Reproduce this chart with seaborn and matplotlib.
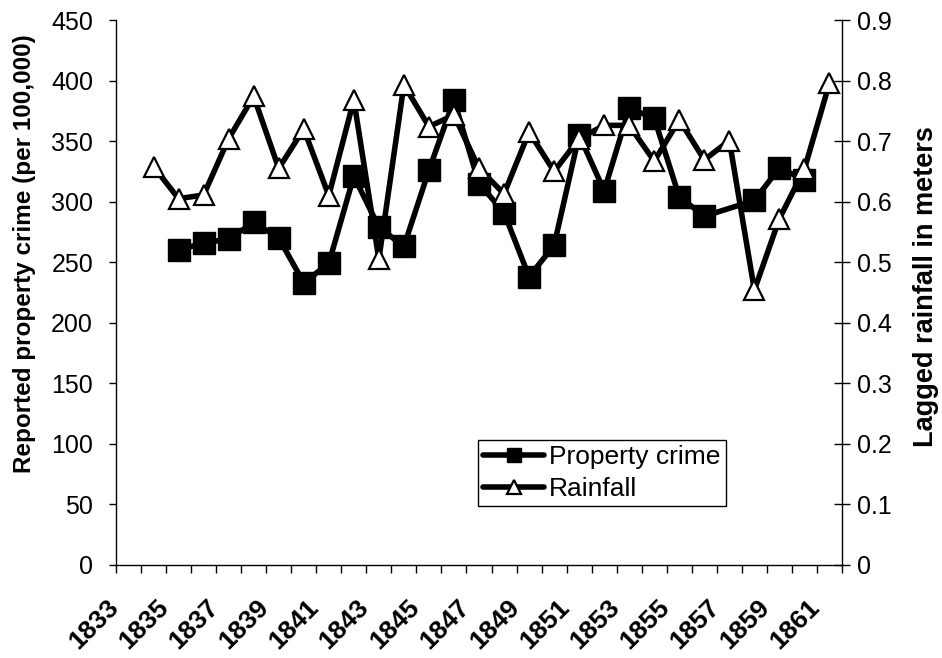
import pandas as pd
import matplotlib
matplotlib.use("Agg")
import matplotlib.pyplot as plt
import matplotlib.transforms as mtransforms
from matplotlib.ticker import FixedLocator, FuncFormatter
import seaborn as sns

# ======================================
# Data
# ======================================

crime_years = [1835, 1836, 1837, 1838, 1839, 1840, 1841, 1842, 1843, 1844,
               1845, 1846, 1847, 1848, 1849, 1850, 1851, 1852, 1853, 1854,
               1855, 1856, 1858, 1859, 1860]
crime = [260, 266, 269, 283, 270, 233, 249, 321, 279, 263,
         326, 384, 315, 291, 238, 264, 355, 309, 377, 369,
         304, 288, 301, 328, 318]

rain_years = [1834, 1835, 1836, 1837, 1838, 1839, 1840, 1841, 1842, 1843,
              1844, 1845, 1846, 1847, 1848, 1849, 1850, 1851, 1852, 1853,
              1854, 1855, 1856, 1857, 1858, 1859, 1860, 1861]
rain = [0.658, 0.605, 0.611, 0.704, 0.774, 0.655, 0.720, 0.610, 0.768, 0.505,
        0.793, 0.724, 0.743, 0.655, 0.613, 0.715, 0.650, 0.704, 0.726, 0.726,
        0.667, 0.735, 0.669, 0.701, 0.454, 0.572, 0.654, 0.796]

label_years = [1833, 1835, 1837, 1839, 1841, 1843, 1845, 1847, 1849, 1851,
               1853, 1855, 1857, 1859, 1861]
crime_ticks = [0, 50, 100, 150, 200, 250, 300, 350, 400, 450]
rain_ticks = [0, 0.1, 0.2, 0.3, 0.4, 0.5, 0.6, 0.7, 0.8, 0.9]

crime_df = pd.DataFrame({"year": crime_years, "crime": crime})
rain_df = pd.DataFrame({"year": rain_years, "rain": rain})

# ======================================
# Style
# ======================================

sns.set_style("ticks")
plt.rcParams["font.family"] = ["Liberation Sans", "DejaVu Sans"]
plt.rcParams["font.size"] = 17.5
for key in ("text.color", "axes.labelcolor", "xtick.color", "ytick.color", "axes.edgecolor"):
    plt.rcParams[key] = "black"

fig = plt.figure(figsize=(9.42, 6.58), dpi=100)
ax = fig.add_axes([116 / 942, 1 - 565 / 658, 726 / 942, 545 / 658])
ax2 = ax.twinx()

# ======================================
# Series
# ======================================

sns.lineplot(data=crime_df, x="year", y="crime", ax=ax, color="black",
             linewidth=4, marker="s", markersize=16,
             markerfacecolor="black", markeredgecolor="black",
             markeredgewidth=1, legend=False)

sns.lineplot(data=rain_df, x="year", y="rain", ax=ax2, color="black",
             linewidth=4, marker="^", markersize=15,
             markerfacecolor="white", markeredgecolor="black",
             markeredgewidth=1.6, legend=False)

# ======================================
# Axes
# ======================================

ax.set_xlim(1832.5, 1861.5)
ax.set_ylim(0, 450)
ax2.set_ylim(0, 0.9)

ax.yaxis.set_major_locator(FixedLocator(crime_ticks))
ax2.yaxis.set_major_locator(FixedLocator(rain_ticks))
ax2.yaxis.set_major_formatter(FuncFormatter(lambda v, p: f"{v:g}"))

ax.xaxis.set_major_locator(FixedLocator(label_years))
ax.xaxis.set_minor_locator(FixedLocator([y - 0.5 for y in range(1833, 1863)]))
ax.set_xticklabels([str(y) for y in label_years], fontweight="bold", fontsize=19,
                   rotation=45, ha="right", va="center", rotation_mode="anchor")
ax.tick_params(axis="x", which="major", length=0, pad=27.5)
ax.tick_params(axis="x", which="minor", length=6, width=1, direction="out")
ax.tick_params(axis="y", length=5, width=1, direction="out", pad=11.5, labelsize=18)
ax2.tick_params(axis="y", length=11, width=1, direction="inout", pad=5, labelsize=18)

shift = mtransforms.ScaledTranslation(-13.5 / 100, 0, fig.dpi_scale_trans)
for lab in ax.get_xticklabels():
    lab.set_transform(lab.get_transform() + shift)

ax.set_xlabel("")
ax.set_ylabel("Reported property crime (per 100,000)", fontweight="bold")
ax.yaxis.set_label_coords(-0.110, 0.5706)
ax2.set_ylabel("Lagged rainfall in meters", fontweight="bold", fontsize=19.5)
ax2.yaxis.set_label_coords(1.098, 0.51)

for a in (ax, ax2):
    a.spines["top"].set_visible(False)
    for s in a.spines.values():
        s.set_color("black")
        s.set_linewidth(1)
ax.spines["right"].set_visible(False)
ax2.spines["left"].set_visible(False)
ax2.spines["bottom"].set_visible(False)

# ======================================
# Legend
# ======================================

leg = ax2.legend([ax.lines[0], ax2.lines[0]], ["Property crime", "Rainfall"],
                 loc="lower left", bbox_to_anchor=(0.4986, 0.108),
                 frameon=True, fancybox=False, edgecolor="black", fontsize=19,
                 handlelength=2.3, handletextpad=0.2, labelspacing=0.3,
                 borderpad=0.2, borderaxespad=0, markerscale=0.65)
leg.get_frame().set_linewidth(1)
leg.get_frame().set_alpha(1)

fig.savefig("out.png", dpi=100)
plt.close(fig)
